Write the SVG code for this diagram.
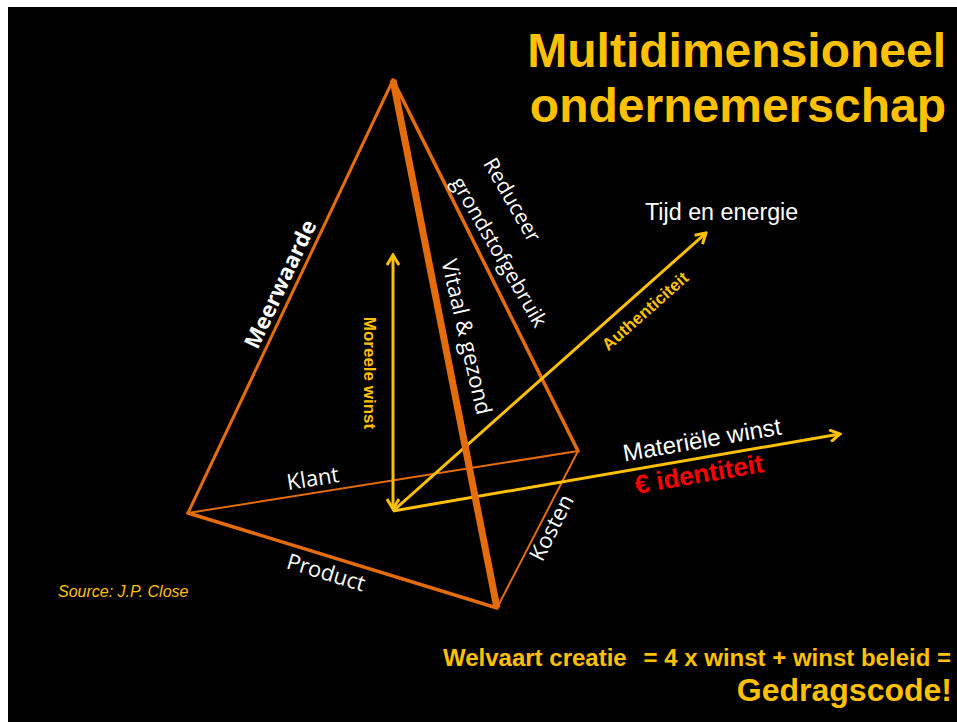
<svg xmlns="http://www.w3.org/2000/svg" width="957" height="722" viewBox="0 0 957 722">
<defs>
<style>
.edge{stroke:#E46C0A;fill:none;stroke-linecap:round}
.ax{stroke:#FFC000;stroke-width:3;fill:none}
.lbl{font-family:"Open Sans","DejaVu Sans",sans-serif;fill:#FFFFFF;text-anchor:middle}
.ar{font-family:"Liberation Sans",Arial,sans-serif}
.yb{font-family:"Liberation Sans",Arial,sans-serif;font-weight:bold;fill:#FFC000}
</style>
<marker id="ah" markerUnits="userSpaceOnUse" viewBox="0 0 14 14" markerWidth="14" markerHeight="14" refX="12" refY="7" orient="auto-start-reverse">
<path d="M2,1 L12,7 L2,13" fill="none" stroke="#FFC000" stroke-width="3" stroke-linejoin="miter"/>
</marker>
</defs>
<rect x="0" y="0" width="957" height="722" fill="#FFFFFF"/>
<rect x="8" y="7" width="949" height="715" fill="#000000"/>

<g id="title">
<text class="yb" x="946" y="67" font-size="48" text-anchor="end">Multidimensioneel</text>
<text class="yb" x="946" y="122" font-size="48" text-anchor="end">ondernemerschap</text>
</g>

<g id="connectors">
<g id="pyramid">
<line class="edge" x1="393" y1="80" x2="188" y2="513" stroke-width="3"/>
<line class="edge" x1="393" y1="80" x2="578" y2="451" stroke-width="3.5"/>
<line class="edge" x1="188" y1="513" x2="497" y2="608" stroke-width="3.5"/>
<line class="edge" x1="188" y1="513" x2="578" y2="451" stroke-width="2"/>
<line class="edge" x1="578" y1="451" x2="497" y2="608" stroke-width="2"/>
</g>
<g id="axes">
<line class="ax" x1="393" y1="509" x2="393" y2="255" marker-start="url(#ah)" marker-end="url(#ah)"/>
<line class="ax" x1="393" y1="511" x2="706" y2="233" marker-end="url(#ah)"/>
<line class="ax" x1="393" y1="511" x2="840" y2="434" marker-end="url(#ah)"/>
</g>
<line x1="393" y1="80" x2="497" y2="608" stroke="#E46C0A" stroke-width="7" stroke-linecap="butt"/>
</g>

<g id="edge-labels">
<text class="lbl" transform="translate(280,284) rotate(-64.7)" y="8" font-size="22" font-weight="bold">Meerwaarde</text>
<text class="lbl" transform="translate(512,200) rotate(60)" y="7" font-size="21">Reduceer</text>
<text class="lbl" transform="translate(499,252) rotate(60)" y="7" font-size="21">grondstofgebruik</text>
<text class="lbl" transform="translate(466,337) rotate(77)" y="7" font-size="22">Vitaal &amp; gezond</text>
<text class="lbl" transform="translate(313,479) rotate(-9)" y="7" font-size="22">Klant</text>
<text class="lbl" transform="translate(326,573) rotate(17)" y="7" font-size="22">Product</text>
<text class="lbl" transform="translate(552,528) rotate(-63)" y="7" font-size="22">Kosten</text>
</g>

<g id="axis-labels">
<text class="yb" transform="translate(370,373) rotate(90)" y="6" font-size="17" text-anchor="middle">Moreele winst</text>
<text class="yb" transform="translate(645,311) rotate(-41.5)" y="6" font-size="17" text-anchor="middle">Authenticiteit</text>
<text class="ar" x="645" y="220" font-size="23.3" fill="#FFFFFF">Tijd en energie</text>
<text class="ar" transform="translate(702,440) rotate(-9.8)" y="8" font-size="24" fill="#FFFFFF" text-anchor="middle">Materiële winst</text>
<text class="ar" transform="translate(699,474) rotate(-9.8)" y="9" font-size="26" font-weight="bold" fill="#FF0000" text-anchor="middle">€ identiteit</text>
</g>

<g id="footer">
<text class="ar" x="58" y="597" font-size="16" font-style="italic" fill="#FFC000">Source: J.P. Close</text>
<text class="yb" x="443" y="666" font-size="24">Welvaart creatie</text>
<text class="yb" x="951" y="666" font-size="24" text-anchor="end">= 4 x winst + winst beleid =</text>
<text class="yb" x="952" y="701" font-size="32" text-anchor="end">Gedragscode!</text>
</g>
</svg>
